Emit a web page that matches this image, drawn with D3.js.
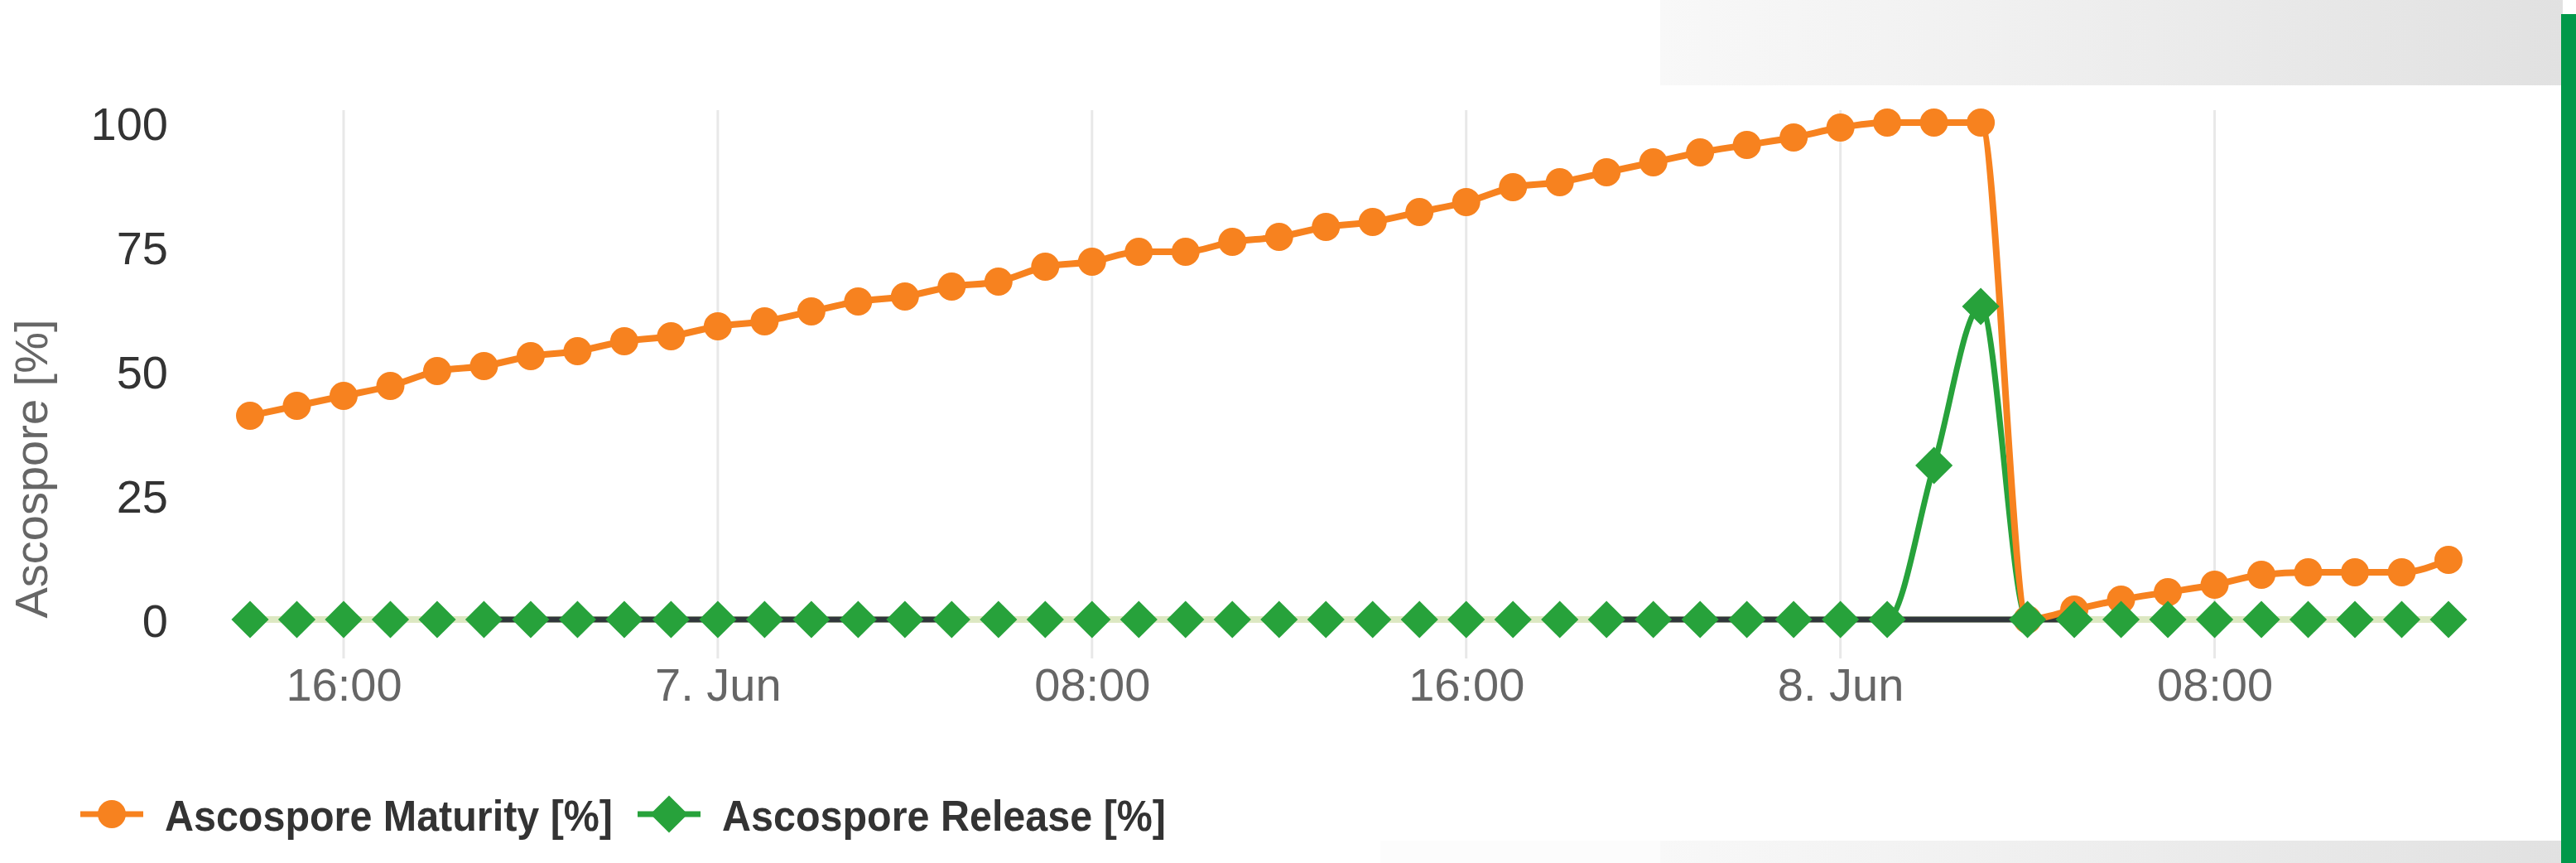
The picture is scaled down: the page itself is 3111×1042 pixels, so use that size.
<!DOCTYPE html>
<html>
<head>
<meta charset="utf-8">
<script src="https://cdn.jsdelivr.net/npm/d3@7.9.0/dist/d3.min.js"></script>
<style>
  body { margin: 0; background: #fff; }
  svg { display: block; font-family: "Liberation Sans", Arial, sans-serif; }
</style>
</head>
<body>
<svg id="chart" width="3111" height="1042"></svg>
<script>
// hourly readings, 6 Jun 14:00 -> 8 Jun 13:00
const hours = [
  "2021-06-06T14:00", "2021-06-06T15:00", "2021-06-06T16:00", "2021-06-06T17:00", "2021-06-06T18:00", "2021-06-06T19:00",
  "2021-06-06T20:00", "2021-06-06T21:00", "2021-06-06T22:00", "2021-06-06T23:00", "2021-06-07T00:00", "2021-06-07T01:00",
  "2021-06-07T02:00", "2021-06-07T03:00", "2021-06-07T04:00", "2021-06-07T05:00", "2021-06-07T06:00", "2021-06-07T07:00",
  "2021-06-07T08:00", "2021-06-07T09:00", "2021-06-07T10:00", "2021-06-07T11:00", "2021-06-07T12:00", "2021-06-07T13:00",
  "2021-06-07T14:00", "2021-06-07T15:00", "2021-06-07T16:00", "2021-06-07T17:00", "2021-06-07T18:00", "2021-06-07T19:00",
  "2021-06-07T20:00", "2021-06-07T21:00", "2021-06-07T22:00", "2021-06-07T23:00", "2021-06-08T00:00", "2021-06-08T01:00",
  "2021-06-08T02:00", "2021-06-08T03:00", "2021-06-08T04:00", "2021-06-08T05:00", "2021-06-08T06:00", "2021-06-08T07:00",
  "2021-06-08T08:00", "2021-06-08T09:00", "2021-06-08T10:00", "2021-06-08T11:00", "2021-06-08T12:00", "2021-06-08T13:00"
];

const maturity = [
  41, 43, 45, 47, 50, 51, 53, 54, 56, 57, 59, 60,
  62, 64, 65, 67, 68, 71, 72, 74, 74, 76, 77, 79,
  80, 82, 84, 87, 88, 90, 92, 94, 95.5, 97, 99, 100,
  100, 100, 0, 2, 4, 5.5, 7, 9, 9.5, 9.5, 9.5, 12
];

const release = [
  0, 0, 0, 0, 0, 0, 0, 0, 0, 0, 0, 0,
  0, 0, 0, 0, 0, 0, 0, 0, 0, 0, 0, 0,
  0, 0, 0, 0, 0, 0, 0, 0, 0, 0, 0, 0,
  31, 63, 0, 0, 0, 0, 0, 0, 0, 0, 0, 0
];

// dark stretches of the zero line
const darkSegments = [
  ["2021-06-06T19:00", "2021-06-07T05:00"],
  ["2021-06-07T19:00", "2021-06-08T05:00"]
];

const xTicks = ["2021-06-06T16:00", "2021-06-07T00:00", "2021-06-07T08:00", "2021-06-07T16:00", "2021-06-08T00:00", "2021-06-08T08:00"];
const yTicks = [0, 25, 50, 75, 100];

const seriesNames = ["Ascospore Maturity [%]", "Ascospore Release [%]"];
const yTitle = "Ascospore [%]";

const orange = "#f7821f";
const green = "#27a23b";

const parse = d3.timeParse("%Y-%m-%dT%H:%M");
const times = hours.map(parse);

const svg = d3.select("#chart");
const width = 3111, height = 1042;

// background decoration
const defs = svg.append("defs");
const grad = defs.append("linearGradient").attr("id", "band");
grad.append("stop").attr("offset", "0").attr("stop-color", "#f8f8f8");
grad.append("stop").attr("offset", "0.3").attr("stop-color", "#f2f2f2");
grad.append("stop").attr("offset", "1").attr("stop-color", "#e1e1e1");

svg.append("rect").attr("x", 2005).attr("y", 0).attr("width", 1090).attr("height", 103).attr("fill", "url(#band)");
svg.append("rect").attr("x", 1667).attr("y", 1015).attr("width", 340).attr("height", 27).attr("fill", "#fcfcfc");
svg.append("rect").attr("x", 2005).attr("y", 1015).attr("width", 1090).attr("height", 27).attr("fill", "url(#band)");
svg.append("rect").attr("x", 3093).attr("y", 17).attr("width", 18).attr("height", height - 17).attr("fill", "#00984a");

const x = d3.scaleTime()
  .domain(d3.extent(times))
  .range([302, 2957]);

const y = d3.scaleLinear()
  .domain([0, 100])
  .range([748, 148]);

// vertical grid
svg.append("g")
  .selectAll("line")
  .data(xTicks.map(parse))
  .join("line")
  .attr("x1", d => x(d)).attr("x2", d => x(d))
  .attr("y1", 133).attr("y2", 795)
  .attr("stroke", "#e8e8e8")
  .attr("stroke-width", 3);

// x axis labels
const fmt = d => d.getHours() === 0 ? d3.timeFormat("%-d. %b")(d) : d3.timeFormat("%H:%M")(d);
const xAxis = svg.append("g")
  .attr("transform", "translate(0,800)")
  .call(d3.axisBottom(x).tickValues(xTicks.map(parse)).tickFormat(fmt).tickSize(0).tickPadding(6));
xAxis.select(".domain").remove();
xAxis.selectAll("text").attr("font-size", 56).attr("fill", "#666").attr("font-family", "Liberation Sans, Arial, sans-serif");

// y axis labels
const yAxis = svg.append("g")
  .attr("transform", "translate(203,0)")
  .call(d3.axisLeft(y).tickValues(yTicks).tickSize(0).tickPadding(0));
yAxis.select(".domain").remove();
yAxis.selectAll("text").attr("font-size", 56).attr("fill", "#333").attr("dy", "0.36em").attr("font-family", "Liberation Sans, Arial, sans-serif");

svg.append("text")
  .attr("transform", "translate(57,566) rotate(-90)")
  .attr("text-anchor", "middle")
  .attr("font-size", 56)
  .attr("fill", "#666")
  .text(yTitle);

const line = d3.line().x(d => x(d.t)).y(d => y(d.v)).curve(d3.curveMonotoneX);

const matData = times.map((t, i) => ({ t, v: maturity[i] }));
const relData = times.map((t, i) => ({ t, v: release[i] }));

// release line
svg.append("path")
  .datum(relData)
  .attr("d", line)
  .attr("fill", "none")
  .attr("stroke", green)
  .attr("stroke-width", 7);

// zero line, pale with dark stretches
svg.append("line")
  .attr("x1", x(times[0])).attr("x2", x(times[times.length - 1]))
  .attr("y1", y(0)).attr("y2", y(0))
  .attr("stroke", "#dde8c2")
  .attr("stroke-width", 8);

svg.append("g")
  .selectAll("line")
  .data(darkSegments)
  .join("line")
  .attr("x1", d => x(parse(d[0]))).attr("x2", d => x(parse(d[1])))
  .attr("y1", y(0)).attr("y2", y(0))
  .attr("stroke", "#30363b")
  .attr("stroke-width", 7);

// maturity line + markers
svg.append("path")
  .datum(matData)
  .attr("d", line)
  .attr("fill", "none")
  .attr("stroke", orange)
  .attr("stroke-width", 8);

svg.append("g")
  .selectAll("circle")
  .data(matData)
  .join("circle")
  .attr("cx", d => x(d.t))
  .attr("cy", d => y(d.v))
  .attr("r", 17)
  .attr("fill", orange);

const diamond = d3.symbol().type(d3.symbolDiamond2).size(1300);
svg.append("g")
  .selectAll("path")
  .data(relData)
  .join("path")
  .attr("transform", d => `translate(${x(d.t)},${y(d.v)})`)
  .attr("d", diamond)
  .attr("fill", green);

// legend
const legend = svg.append("g");
const items = [
  { name: seriesNames[0], color: orange, x: 97, tx: 199, w: 541, mark: "circle" },
  { name: seriesNames[1], color: green, x: 770, tx: 872, w: 536, mark: "diamond" }
];
items.forEach(it => {
  legend.append("line")
    .attr("x1", it.x).attr("x2", it.x + 76)
    .attr("y1", 983).attr("y2", 983)
    .attr("stroke", it.color).attr("stroke-width", 7);
  if (it.mark === "circle") {
    legend.append("circle").attr("cx", it.x + 38).attr("cy", 983).attr("r", 17).attr("fill", it.color);
  } else {
    legend.append("path").attr("transform", `translate(${it.x + 38},983)`).attr("d", diamond).attr("fill", it.color);
  }
  legend.append("text")
    .attr("x", it.tx).attr("y", 1003)
    .attr("font-size", 52)
    .attr("font-weight", "bold")
    .attr("fill", "#333")
    .attr("textLength", it.w)
    .attr("lengthAdjust", "spacingAndGlyphs")
    .text(it.name);
});
</script>
</body>
</html>
